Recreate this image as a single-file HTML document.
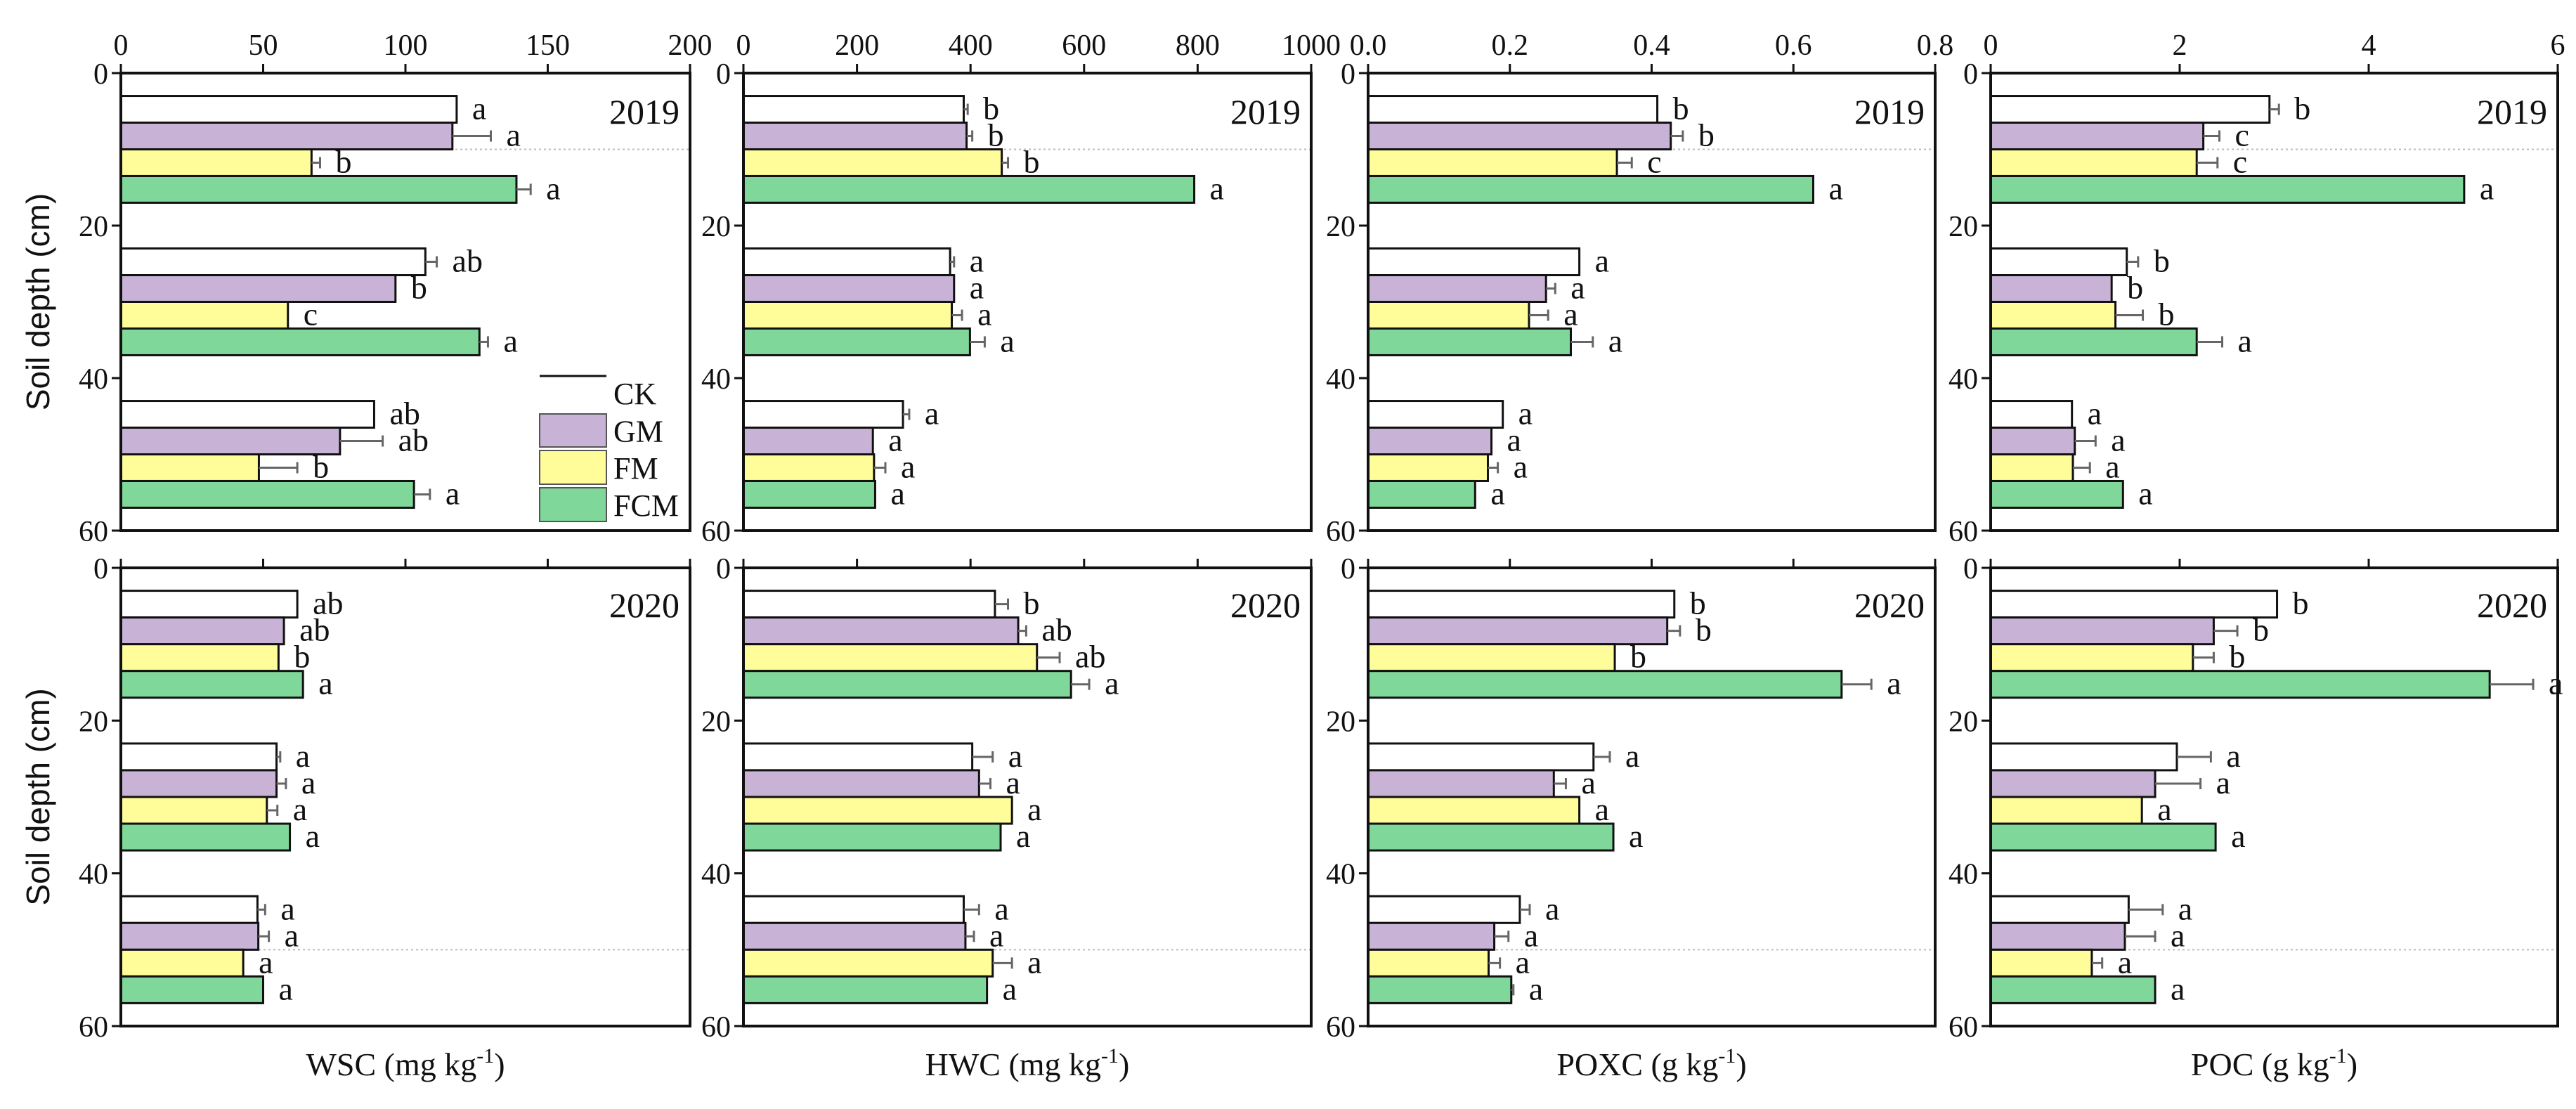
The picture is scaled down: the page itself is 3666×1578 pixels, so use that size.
<!DOCTYPE html>
<html><head><meta charset="utf-8"><style>
html,body{margin:0;padding:0;background:#fff;}
svg{display:block;font-family:"Liberation Serif",serif;}
</style></head><body>
<svg id="fig" width="3666" height="1578" viewBox="0 0 3666 1578" xmlns="http://www.w3.org/2000/svg"></svg>
<script>
const treatments = ["CK","GM","FM","FCM"];
const fills = ["#ffffff","#c8b3d6","#fffd9a","#7fd89a"];
const depthGroups = [0,20,40];
const panelTitles = ["WSC (mg kg","HWC (mg kg","POXC (g kg","POC (g kg"];
const axisMax = [200,1000,0.8,6];
const tickLabels = [["0","50","100","150","200"],["0","200","400","600","800","1000"],["0.0","0.2","0.4","0.6","0.8"],["0","2","4","6"]];
const depthTicks = [0,20,40,60];
const years = ["2019","2020"];
// values[variable][year] = per group [CK,GM,FM,FCM]
const wsc2019 = [[118,116.5,67,139],[107,96.5,58.7,126],[89,77,48.5,103]];
const wsc2019Err = [[118,130,70,144],[111,96.5,58.7,129],[89,92,62,108.6]];
const wsc2020 = [[62,57.3,55.4,64],[54.7,54.7,51.3,59.4],[48,48.3,43,50]];
const wsc2020Err = [[62,57.3,55.4,64],[56,58,55,59.4],[50.7,52,43,50]];
const hwc2019 = [[388,393,455,794],[364,371,367,399],[281,228,230,232]];
const hwc2019Err = [[395,403,466,794],[371,371,385,425],[292,228,250,232]];
const hwc2020 = [[443,484,517,577],[403,415,473,453],[388,391,439,429]];
const hwc2020Err = [[466,498,557,609],[439,435,473,453],[415,406,473,429]];
const poxc2019 = [[0.408,0.427,0.351,0.628],[0.298,0.251,0.227,0.286],[0.19,0.174,0.169,0.151]];
const poxc2019Err = [[0.408,0.444,0.372,0.628],[0.298,0.264,0.254,0.317],[0.19,0.174,0.183,0.151]];
const poxc2020 = [[0.432,0.422,0.348,0.668],[0.318,0.262,0.298,0.346],[0.214,0.178,0.17,0.202]];
const poxc2020Err = [[0.432,0.44,0.348,0.71],[0.341,0.279,0.298,0.346],[0.228,0.198,0.186,0.205]];
const poc2019 = [[2.95,2.25,2.18,5.01],[1.44,1.28,1.32,2.18],[0.86,0.89,0.87,1.40]];
const poc2019Err = [[3.05,2.42,2.4,5.01],[1.56,1.28,1.61,2.45],[0.86,1.11,1.05,1.40]];
const poc2020 = [[3.03,2.36,2.14,5.28],[1.97,1.74,1.60,2.38],[1.46,1.42,1.07,1.74]];
const poc2020Err = [[3.03,2.61,2.36,5.74],[2.33,2.22,1.60,2.38],[1.82,1.74,1.18,1.74]];
const letters2019 = [
 [["a","a","b","a"],["ab","b","c","a"],["ab","ab","b","a"]],
 [["b","b","b","a"],["a","a","a","a"],["a","a","a","a"]],
 [["b","b","c","a"],["a","a","a","a"],["a","a","a","a"]],
 [["b","c","c","a"],["b","b","b","a"],["a","a","a","a"]]];
const letters2020 = [
 [["ab","ab","b","a"],["a","a","a","a"],["a","a","a","a"]],
 [["b","ab","ab","a"],["a","a","a","a"],["a","a","a","a"]],
 [["b","b","b","a"],["a","a","a","a"],["a","a","a","a"]],
 [["b","b","b","a"],["a","a","a","a"],["a","a","a","a"]]];

const values = [[wsc2019,wsc2020],[hwc2019,hwc2020],[poxc2019,poxc2020],[poc2019,poc2020]];
const errs = [[wsc2019Err,wsc2020Err],[hwc2019Err,hwc2020Err],[poxc2019Err,poxc2020Err],[poc2019Err,poc2020Err]];
const letters = [[letters2019[0],letters2020[0]],[letters2019[1],letters2020[1]],[letters2019[2],letters2020[2]],[letters2019[3],letters2020[3]]];

const NS="http://www.w3.org/2000/svg";
const svg=document.getElementById('fig');
function mk(tag,attrs,parent,text){const e=document.createElementNS(NS,tag);for(const k in attrs)e.setAttribute(k,attrs[k]);if(text!==undefined)e.textContent=text;(parent||svg).appendChild(e);return e;}
const colX=[[172,982],[1058,1866],[1947,2754],[2833,3640]];
const rowY=[[104,755],[808,1460]];
const barH=3.5;

for(let c=0;c<4;c++){
  for(let r=0;r<2;r++){
    const [x0,x1]=colX[c],[y0,y1]=rowY[r];
    const xs=v=>x0+v/axisMax[c]*(x1-x0);
    const ys=d=>y0+d/60*(y1-y0);
    const g=mk('g',{});
    
    
    // dotted guide line
    const dl=mk('line',{x1:x0,x2:x1,y1:ys(r==0?10:50),y2:ys(r==0?10:50),stroke:'#bbb','stroke-width':2,'stroke-dasharray':'3,4'},g);
    
    
    // bars
    for(let gi=0;gi<3;gi++){
      for(let t=0;t<4;t++){
        const d0=depthGroups[gi]+3+t*barH;
        const v=values[c][r][gi][t], ev=errs[c][r][gi][t];
        const rect=mk('rect',{x:x0,y:ys(d0),width:xs(v)-x0,height:ys(d0+barH)-ys(d0),fill:fills[t],stroke:'#111','stroke-width':3},g);
        
        
        const cy=ys(d0+barH/2);
        if(ev>v){
          const el=mk('line',{x1:xs(v),x2:xs(ev),y1:cy,y2:cy,stroke:'#666','stroke-width':3},g);
          
          
          const ec=mk('line',{x1:xs(ev),x2:xs(ev),y1:cy-8,y2:cy+8,stroke:'#666','stroke-width':3},g);
          
          
        }
        const lt=mk('text',{x:xs(ev)+22,y:cy+14,'font-size':46,fill:'#111'},g,letters[c][r][gi][t]);
        
        
      }
    }
    // frame
    const fr=mk('path',{d:`M${x0},${y0}H${x1}V${y1}H${x0}Z`,fill:'none',stroke:'#111','stroke-width':4},g);
    
    
    // top ticks
    const n=tickLabels[c].length;
    for(let i=0;i<n;i++){
      const tv=axisMax[c]*i/(n-1), tx=xs(tv);
      const tk=mk('line',{x1:tx,x2:tx,y1:y0,y2:y0-13,stroke:'#111','stroke-width':3},g);
      
      
      if(r==0){
        const tl=mk('text',{x:tx,y:78,'font-size':42,'text-anchor':'middle',fill:'#111'},g,tickLabels[c][i]);
        
        
      }
    }
    for(const d of depthTicks){
      const tk=mk('line',{x1:x0,x2:x0-13,y1:ys(d),y2:ys(d),stroke:'#111','stroke-width':3},g);
      
      
      const tl=mk('text',{x:x0-18,y:ys(d)+15,'font-size':42,'text-anchor':'end',fill:'#111'},g,String(d));
      
      
    }
    const yr=mk('text',{x:x1-15,y:y0+(r==0?72:70),'font-size':50,'text-anchor':'end',fill:'#111'},g,years[r]);
    
    
  }
  const xt=mk('text',{x:(colX[c][0]+colX[c][1])/2,y:1530,'font-size':46,'text-anchor':'middle',fill:'#111'});
  
  
  xt.appendChild(document.createTextNode(panelTitles[c]));
  const sup=mk('tspan',{'font-size':30,dy:-18},xt,'-1');
  mk('tspan',{dy:18},xt,')');
}
for(let r=0;r<2;r++){
  const cy=(rowY[r][0]+rowY[r][1])/2;
  const yt=mk('text',{x:70,y:cy,'font-size':46,'text-anchor':'middle',transform:`rotate(-90 70 ${cy})`,fill:'#111','font-family':'Liberation Sans, sans-serif'},svg,'Soil depth (cm)');
  
  
}
// legend
const lg=mk('g',{});


const legY=[[535,550],[589,636],[641,689],[694,742]];
for(let t=0;t<4;t++){
  if(t==0){
    const l=mk('line',{x1:768,x2:863,y1:535,y2:535,stroke:'#111','stroke-width':3},lg);
    
    
  } else {
    const s=mk('rect',{x:768,y:legY[t][0],width:95,height:legY[t][1]-legY[t][0],fill:fills[t],stroke:'#555','stroke-width':2},lg);
    
    
  }
  const ty=t==0?575:(legY[t][0]+legY[t][1])/2+16;
  const tx=mk('text',{x:873,y:ty,'font-size':44,fill:'#111'},lg,treatments[t]);
  
  
}
</script>
</body></html>
